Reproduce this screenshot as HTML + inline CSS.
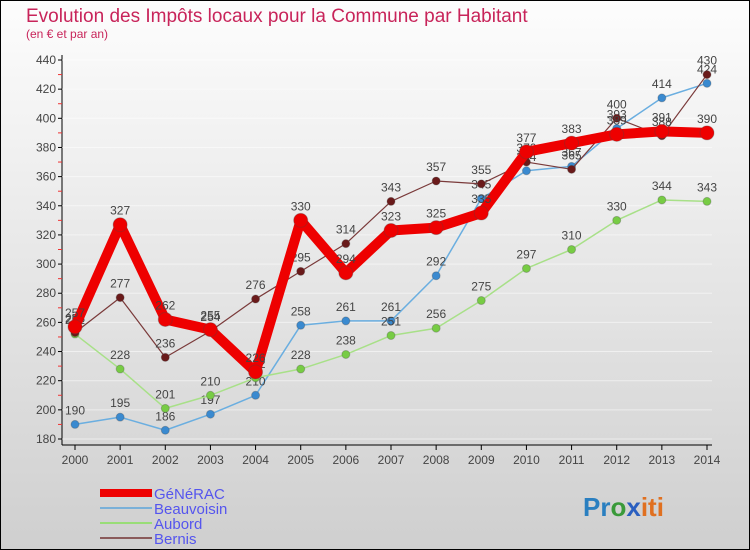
<!DOCTYPE html>
<html><head><meta charset="utf-8"><style>
body{margin:0;}
#c{width:750px;height:550px;position:relative;overflow:hidden;font-family:"Liberation Sans",sans-serif;}
</style></head><body>
<div id="c">
<svg id="s" width="750" height="550" xmlns="http://www.w3.org/2000/svg">
<defs><linearGradient id="bg" x1="0" y1="0" x2="0" y2="1"><stop offset="0" stop-color="#fdfdfd"/><stop offset="1" stop-color="#cfcfcf"/></linearGradient></defs>
<rect x="0.5" y="0.5" width="749" height="549" fill="url(#bg)" stroke="#000"/>
<text x="26" y="22" font-size="19" fill="#c8245a">Evolution des Impôts locaux pour la Commune par Habitant</text>
<text x="26" y="38" font-size="12" fill="#c8245a">(en € et par an)</text>
<g id="axes"></g><g id="series"></g>
<g>
<rect x="100" y="489" width="52" height="8" fill="#e00"/>
<text x="154" y="499" font-size="15" fill="#5555ee">GéNéRAC</text>
<line x1="100" y1="508" x2="152" y2="508" stroke="#7ab0d8" stroke-width="2"/>
<text x="154" y="514" font-size="15" fill="#5555ee">Beauvoisin</text>
<line x1="100" y1="523" x2="152" y2="523" stroke="#99dd77" stroke-width="2"/>
<text x="154" y="529" font-size="15" fill="#5555ee">Aubord</text>
<line x1="100" y1="538" x2="152" y2="538" stroke="#8a5a5a" stroke-width="2"/>
<text x="154" y="544" font-size="15" fill="#5555ee">Bernis</text>
</g>
<text x="583" y="516" font-size="26" font-weight="bold"><tspan fill="#2a7fc0">Pr</tspan><tspan fill="#3a9a3a">o</tspan><tspan fill="#2a5fc0">x</tspan><tspan fill="#e07020">iti</tspan></text>
</svg></div>
<script>
const years=["2000","2001","2002","2003","2004","2005","2006","2007","2008","2009","2010","2011","2012","2013","2014"];
const yTicks=[180,200,220,240,260,280,300,320,340,360,380,400,420,440];
const generac=[257,327,262,255,226,330,294,323,325,335,377,383,389,391,390];
const beauvoisin=[190,195,186,197,210,258,261,261,292,345,364,367,393,414,424];
const aubord=[252,228,201,210,222,228,238,251,256,275,297,310,330,344,343];
const bernis=[253,277,236,254,276,295,314,343,357,355,370,365,400,388,430];
const NS="http://www.w3.org/2000/svg";
function X(i){return 75+i*(707-75)/14;}
function Y(v){return 439-(v-180)*(439-60)/260;}
function mk(t,a,p){const e=document.createElementNS(NS,t);for(const k in a)e.setAttribute(k,a[k]);p.appendChild(e);return e;}
const ax=document.getElementById('axes');
mk('line',{x1:62,y1:55,x2:62,y2:445,stroke:'#000'},ax);
mk('line',{x1:62,y1:445,x2:712,y2:445,stroke:'#000'},ax);
yTicks.forEach((v,k)=>{
 const gl=mk('line',{x1:62,y1:Y(v),x2:712,y2:Y(v),stroke:'#fff','stroke-opacity':0.5},ax);
 
 
 mk('line',{x1:58,y1:Y(v),x2:62,y2:Y(v),stroke:'#000'},ax);
 if(k<yTicks.length-1) mk('line',{x1:58,y1:Y(v+10),x2:62,y2:Y(v+10),stroke:'#e33'},ax);
 const t=mk('text',{x:56,y:Y(v)+4,'font-size':12,'text-anchor':'end',fill:'#444'},ax);t.textContent=v;
 
 
});
years.forEach((y,i)=>{
 mk('line',{x1:X(i),y1:445,x2:X(i),y2:450,stroke:'#000'},ax);
 const t=mk('text',{x:X(i),y:464,'font-size':12,'text-anchor':'middle',fill:'#444'},ax);t.textContent=y;
 
 
});
const sg=document.getElementById('series');
function series(name,vals,color,dot,w,r){
 const g=mk('g',{},sg);
 
 
 mk('polyline',{points:vals.map((v,i)=>X(i)+','+Y(v)).join(' '),fill:'none',stroke:color,'stroke-width':w,'stroke-linejoin':'round'},g);
 vals.forEach((v,i)=>{
  const c=mk('circle',{cx:X(i),cy:Y(v),r:r,fill:dot,stroke:'#444','stroke-opacity':0.3},g);
  
  
  const t=mk('text',{x:X(i),y:Y(v)-10,'font-size':12,'text-anchor':'middle',fill:'#444'},g);t.textContent=v;
  
  
 });
}
series('beauvoisin',beauvoisin,'#6aaee0','#3a8ad0',1.5,4);
series('aubord',aubord,'#a8e088','#77cc44',1.5,4);
series('bernis',bernis,'#7a3a3a','#6a1a1a',1.2,4);
series('generac',generac,'#ee0000','#ee0000',10,7);
</script>
</body></html>
